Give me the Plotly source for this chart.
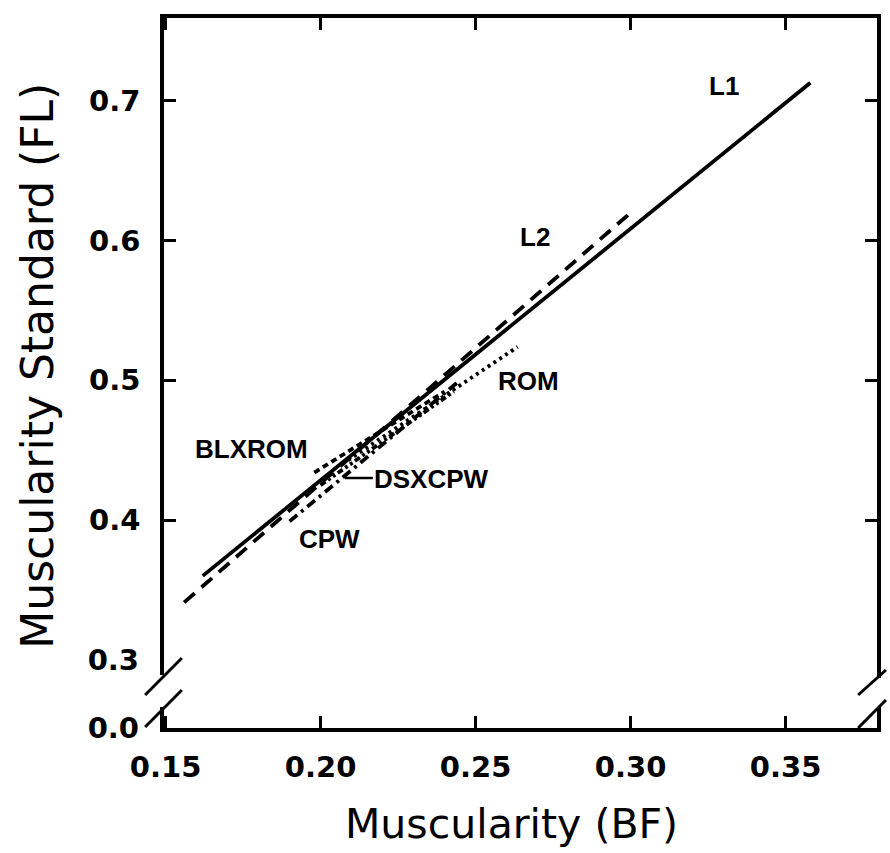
import plotly.graph_objects as go

# ---- data ----
x_l1 = [0.162, 0.358]
y_l1 = [0.360, 0.713]
x_l2 = [0.156, 0.300]
y_l2 = [0.341, 0.620]
x_blxrom = [0.198, 0.240]
y_blxrom = [0.434, 0.492]
x_rom = [0.207, 0.2636]
y_rom = [0.440, 0.524]
x_cpw = [0.190, 0.245]
y_cpw = [0.399, 0.500]
x_dsxcpw = [0.200, 0.243]
y_dsxcpw = [0.425, 0.492]

x_ticks = [0.15, 0.20, 0.25, 0.30, 0.35]
x_ticktext = ["0.15", "0.20", "0.25", "0.30", "0.35"]
y_ticks = [0.4, 0.5, 0.6, 0.7]
y_ticktext = ["0.4", "0.5", "0.6", "0.7"]
y_break_vals = [0.2511, 0.3]
y_break_text = ["0.0", "0.3"]

X_RANGE = [0.1495, 0.3795]
Y_RANGE = [0.2511, 0.7594]

# layout geometry (pixels)
W, H = 890, 853
L, R, T, B = 164, 9, 18, 125
PW, PH = W - L - R, H - T - B


def px(x):
    return (x - L) / PW


def py(y):
    return (H - B - y) / PH


LW = 3.8
fig = go.Figure()
series = [
    (x_l1, y_l1, "solid"),
    (x_l2, y_l2, "14px,9px"),
    (x_blxrom, y_blxrom, "6px,4px"),
    (x_rom, y_rom, "3px,4px"),
    (x_cpw, y_cpw, "10px,5px,3px,5px"),
    (x_dsxcpw, y_dsxcpw, "6px,3px,3px,3px,3px,3px"),
]
for xs, ys, dash in series:
    fig.add_trace(go.Scatter(x=xs, y=ys, mode="lines",
                             line=dict(color="black", width=LW, dash=dash),
                             showlegend=False, hoverinfo="skip"))
# invisible trace for second y axis labels
fig.add_trace(go.Scatter(x=[None], y=[None], yaxis="y2", showlegend=False))

TICKFONT = dict(family="DejaVu Sans", size=29, color="black", weight="bold")
LABFONT = dict(family="Liberation Sans", size=26, color="black", weight="bold")
XTITLEFONT = dict(family="DejaVu Sans", size=41, color="black")
YTITLEFONT = dict(family="DejaVu Sans", size=44, color="black")

fig.update_layout(
    width=W, height=H,
    margin=dict(l=L, r=R, t=T, b=B, pad=0),
    plot_bgcolor="white", paper_bgcolor="white",
    xaxis=dict(range=X_RANGE, tickvals=x_ticks, ticktext=x_ticktext,
               ticks="inside", ticklen=12, tickwidth=2.5, tickcolor="black",
               showline=True, linecolor="black", linewidth=3.5, mirror="ticks",
               showgrid=False, zeroline=False, tickfont=TICKFONT,
               ticklabelstandoff=10),
    yaxis=dict(range=Y_RANGE, tickvals=y_ticks, ticktext=y_ticktext,
               ticks="inside", ticklen=12, tickwidth=2.5, tickcolor="black",
               showline=True, linecolor="black", linewidth=3.5, mirror="ticks",
               showgrid=False, zeroline=False, tickfont=TICKFONT,
               ticklabelstandoff=14),
    yaxis2=dict(range=Y_RANGE, overlaying="y", side="left",
                tickvals=y_break_vals, ticktext=y_break_text, ticks="",
                showline=False, showgrid=False, zeroline=False,
                tickfont=TICKFONT, ticklabelstandoff=24),
)

# axis break: hide the frame between the slashes and draw slash marks
white = "white"
fig.add_shape(type="rect", xref="paper", yref="paper",
              x0=px(158), x1=px(170), y0=py(707), y1=py(675),
              line=dict(width=0), fillcolor=white, layer="above")
fig.add_shape(type="rect", xref="paper", yref="paper",
              x0=px(875), x1=px(888), y0=py(707), y1=py(678),
              line=dict(width=0), fillcolor=white, layer="above")
for (a, b, c, d) in [(145, 695, 182, 658), (145, 727, 182, 690),
                     (862, 695, 890, 670), (862, 728, 890, 700)]:
    fig.add_shape(type="line", xref="paper", yref="paper",
                  x0=px(a), y0=py(b), x1=px(c), y1=py(d),
                  line=dict(color="black", width=3), layer="above")

# series labels
labels = [("L1", 727, 86), ("L2", 537, 237), ("ROM", 531, 381),
          ("BLXROM", 252, 449), ("DSXCPW", 433, 479), ("CPW", 330, 539)]
for text, xx, yy in labels:
    fig.add_annotation(text=text, xref="paper", yref="paper",
                       x=px(xx), y=py(yy), showarrow=False,
                       font=LABFONT, xanchor="center", yanchor="middle")
# leader line for DSXCPW
fig.add_shape(type="line", xref="paper", yref="paper",
              x0=px(346), y0=py(478), x1=px(374), y1=py(478),
              line=dict(color="black", width=2.5))

# axis titles
fig.add_annotation(text="Muscularity (BF)", xref="paper", yref="paper",
                   x=px(513), y=py(824), showarrow=False, font=XTITLEFONT,
                   xanchor="center", yanchor="middle")
fig.add_annotation(text="Muscularity Standard (FL)", xref="paper", yref="paper",
                   x=px(36), y=py(366), showarrow=False, font=YTITLEFONT,
                   textangle=-90, xanchor="center", yanchor="middle")

fig.write_html("out.html")
